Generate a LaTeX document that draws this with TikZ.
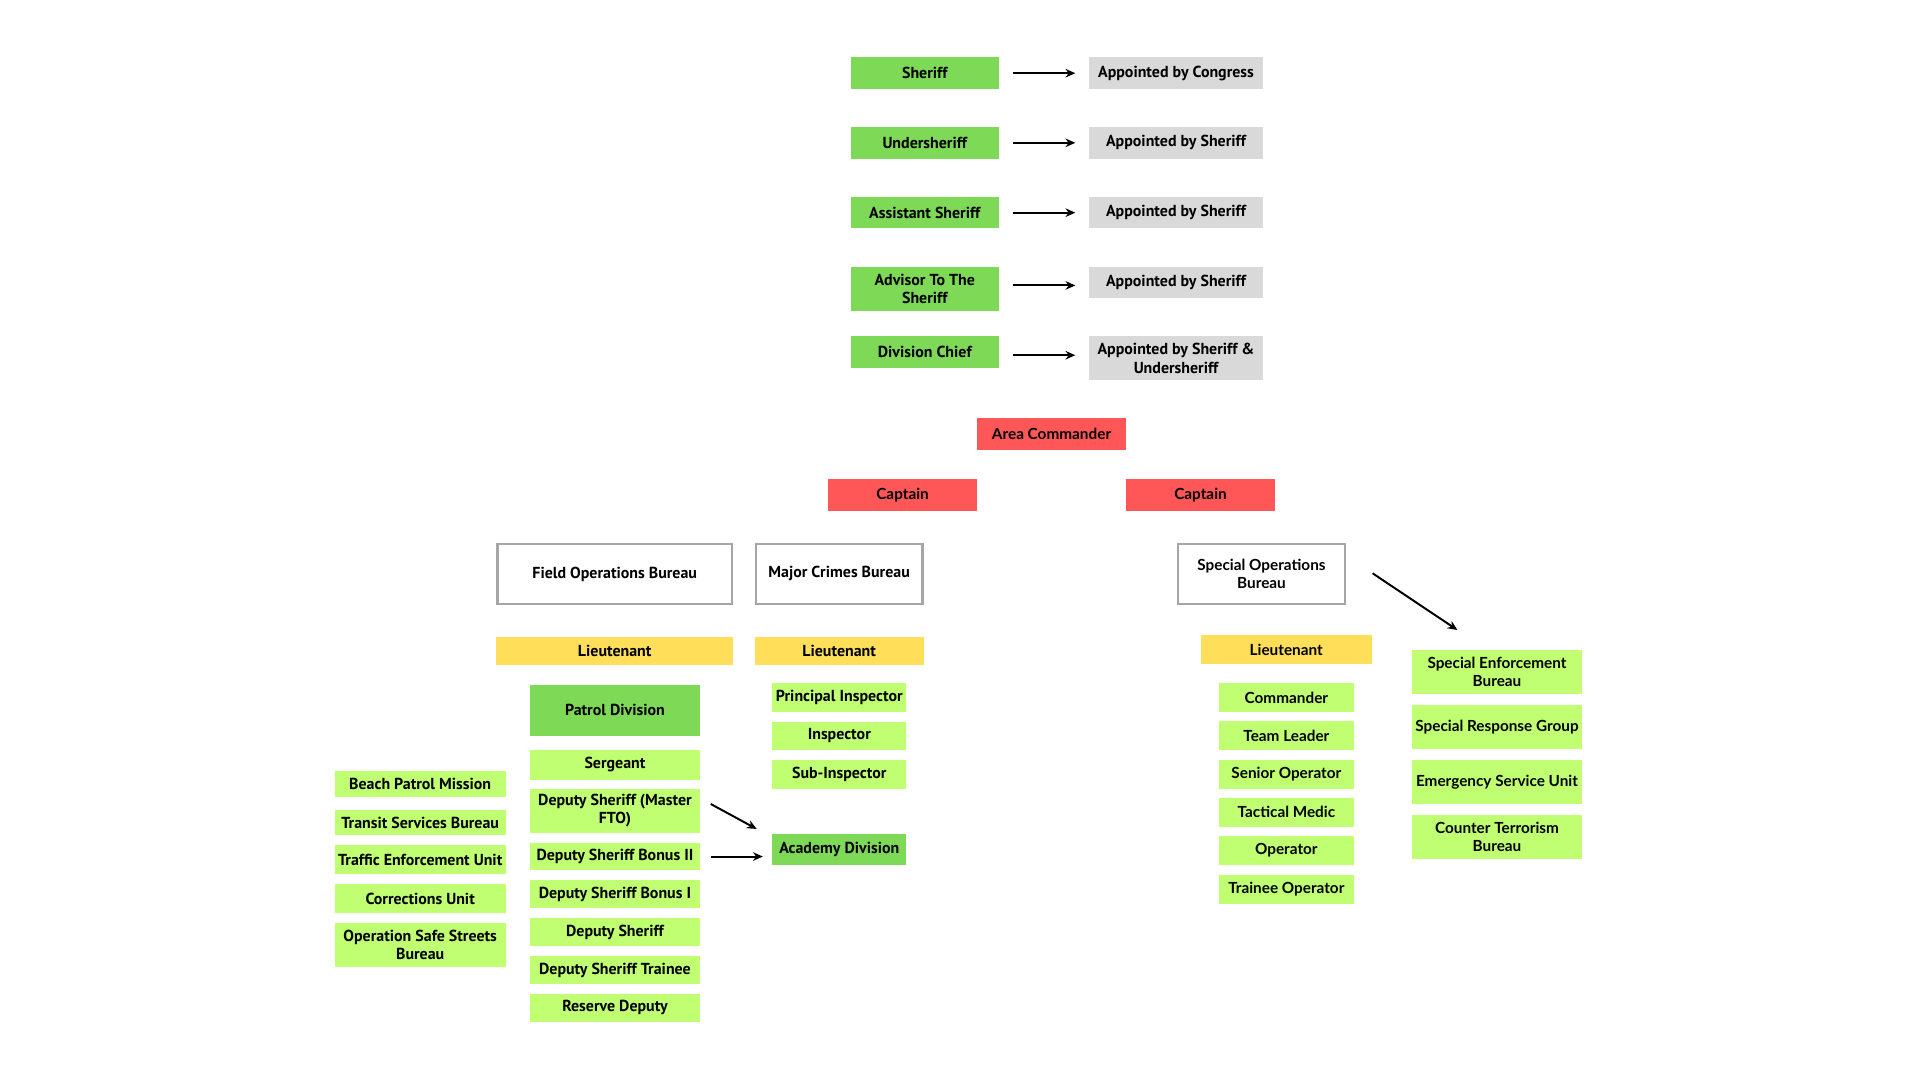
\documentclass[tikz,border=0pt]{standalone}
\usepackage{fontspec}
\setmainfont{PT Sans}
\newfontfamily\widefont{Lato}
\usetikzlibrary{arrows.meta,calc}
\definecolor{dkgreen}{HTML}{7ED957}
\definecolor{ltgreen}{HTML}{C1FF72}
\definecolor{grayb}{HTML}{D9D9D9}
\definecolor{redb}{HTML}{FF5757}
\definecolor{yelb}{HTML}{FFDE59}
\definecolor{bord}{HTML}{A6A6A6}
\begin{document}
\begin{tikzpicture}[x=1pt,y=-1pt,
  bw/.style={minimum width=#1pt},
  bh/.style={minimum height=#1pt},
  nar/.style={rectangle, inner sep=0pt, align=center, font=\bfseries\fontsize{13}{15}\selectfont},
  wide/.style={rectangle, inner sep=0pt, align=center, font=\widefont\bfseries\fontsize{12.5}{14.5}\selectfont},
  boxdg/.style={fill=dkgreen},
  boxlg/.style={fill=ltgreen},
  boxgray/.style={fill=grayb},
  boxred/.style={fill=redb},
  boxyel/.style={fill=yelb},
  boxwhite/.style={draw=bord, line width=2pt, fill=white},
  arr/.style={-{Stealth[length=8pt,width=7pt]}, line width=1.6pt, black}]
\useasboundingbox[fill=white] (0,0) rectangle (1567.35,881.63);

% ---- top ranks
\node[nar,boxdg,bw=121.2,bh=25.9] (sheriff) at (754.9,59.75) {Sheriff};
\node[nar,boxdg,bw=121.2,bh=25.8] (under) at (754.9,116.6) {Undersheriff};
\node[nar,boxdg,bw=121.2,bh=25.6] (asst) at (754.9,173.6) {Assistant Sheriff};
\node[nar,boxdg,bw=121.2,bh=35.9] (advisor) at (754.9,235.65) {Advisor To The\\Sheriff};
\node[nar,boxdg,bw=121.2,bh=25.9] (divchief) at (754.9,287.45) {Division Chief};

\node[nar,boxgray,bw=142,bh=25.9] (g1) at (960,59.75) {Appointed by Congress};
\node[nar,boxgray,bw=142,bh=25.8] (g2) at (960,116.6) {Appointed by Sheriff};
\node[nar,boxgray,bw=142,bh=25.6] (g3) at (960,173.6) {Appointed by Sheriff};
\node[nar,boxgray,bw=142,bh=25.3] (g4) at (960,230.35) {Appointed by Sheriff};
\node[nar,boxgray,bw=142,bh=36] (g5) at (960,292.5) {Appointed by Sheriff \&\\Undersheriff};

\draw[arr,shorten <=11pt,shorten >=11pt] (sheriff.east) -- (g1.west);
\draw[arr,shorten <=11pt,shorten >=11pt] (under.east) -- (g2.west);
\draw[arr,shorten <=11pt,shorten >=11pt] (asst.east) -- (g3.west);
\coordinate (m4) at ($(advisor.east)!.5!(g4.west)$);
\coordinate (m5) at ($(divchief.east)!.5!(g5.west)$);
\draw[arr,shorten <=11pt,shorten >=11pt] (advisor.east |- m4) -- (g4.west |- m4);
\draw[arr,shorten <=11pt,shorten >=11pt] (divchief.east |- m5) -- (g5.west |- m5);

% ---- commanders
\node[wide,boxred,bw=121.6,bh=26.3] (area) at (858.4,354.2) {Area Commander};
\node[wide,boxred,bw=121.6,bh=26] (cap1) at (736.8,404) {Captain};
\node[wide,boxred,bw=122,bh=26] (cap2) at (980,404) {Captain};

% ---- bureaus
\node[nar,boxwhite,bw=191.2,bh=49] (fob) at (501.8,468.5) {Field Operations Bureau};
\node[nar,boxwhite,bw=136,bh=49] (mcb) at (685,468.5) {Major Crimes Bureau};
\node[wide,boxwhite,bw=136.4,bh=49] (sob) at (1029.8,468.5) {Special Operations\\Bureau};

\node[nar,boxyel,bw=193.2,bh=23.3] (lt1) at (501.8,531.35) {Lieutenant};
\node[nar,boxyel,bw=138,bh=23.3] (lt2) at (685,531.35) {Lieutenant};
\node[wide,boxyel,bw=139.3,bh=23.4] (lt3) at (1050,530.3) {Lieutenant};

% ---- patrol column
\node[nar,boxdg,bw=138.7,bh=41.6] (patrol) at (502,579.7) {Patrol Division};
\node[nar,boxlg,bw=138.7,bh=24.5] (sgt) at (502,624.25) {Sergeant};
\node[nar,boxlg,bw=138.7,bh=35.7] (fto) at (502,661.85) {Deputy Sheriff (Master\\FTO)};
\node[nar,boxlg,bw=138.7,bh=22.6] (b2) at (502,699.2) {Deputy Sheriff Bonus II};
\node[nar,boxlg,bw=138.7,bh=22.9] (b1) at (502,730.05) {Deputy Sheriff Bonus I};
\node[nar,boxlg,bw=138.7,bh=22.8] (ds) at (502,761.1) {Deputy Sheriff};
\node[nar,boxlg,bw=138.7,bh=22.9] (trn) at (502,791.85) {Deputy Sheriff Trainee};
\node[nar,boxlg,bw=138.7,bh=22.8] (rsv) at (502,822.6) {Reserve Deputy};

% ---- left column
\node[nar,boxlg,bw=139.3,bh=21.2] (beach) at (343,640.3) {Beach Patrol Mission};
\node[nar,boxlg,bw=139.3,bh=20.4] (transit) at (343,671.7) {Transit Services Bureau};
\node[nar,boxlg,bw=139.3,bh=23.7] (traffic) at (343,701.85) {Traffic Enforcement Unit};
\node[nar,boxlg,bw=139.3,bh=23.1] (corr) at (343,733.45) {Corrections Unit};
\node[nar,boxlg,bw=139.3,bh=35.6] (oss) at (343,771.3) {Operation Safe Streets\\Bureau};

% ---- major crimes column
\node[nar,boxlg,bw=109.3,bh=23.2] (pinsp) at (685.15,569.4) {Principal Inspector};
\node[nar,boxlg,bw=109.3,bh=22.9] (insp) at (685.15,600.55) {Inspector};
\node[nar,boxlg,bw=109.3,bh=23.4] (sinsp) at (685.15,632.1) {Sub-Inspector};
\node[nar,boxdg,bw=109.3,bh=25.1] (acad) at (685.15,693.35) {Academy Division};

\coordinate (a1s) at (580.2,656.3);
\coordinate (a1e) at (617.7,676.7);
\draw[arr] (a1s) -- (a1e);
\draw[arr,shorten <=8.8pt,shorten >=7.6pt] (b2.east) -- (b2.east -| acad.west);

% ---- special operations column
\node[wide,boxlg,bw=110,bh=23.2] (cmdr) at (1050.1,569.4) {Commander};
\node[wide,boxlg,bw=110,bh=23.1] (team) at (1050.1,600.45) {Team Leader};
\node[wide,boxlg,bw=110,bh=23.4] (senior) at (1050.1,632.1) {Senior Operator};
\node[wide,boxlg,bw=110,bh=23.4] (medic) at (1050.1,663.1) {Tactical Medic};
\node[wide,boxlg,bw=110,bh=23.5] (oper) at (1050.1,694.15) {Operator};
\node[wide,boxlg,bw=110,bh=23.4] (trop) at (1050.1,726) {Trainee Operator};

\node[wide,boxlg,bw=139.3,bh=35.9] (seb) at (1222.05,548.55) {Special Enforcement\\Bureau};
\node[wide,boxlg,bw=139.3,bh=35.9] (srg) at (1222.05,593.45) {Special Response Group};
\node[wide,boxlg,bw=139.3,bh=35.7] (esu) at (1222.05,638.25) {Emergency Service Unit};
\node[wide,boxlg,bw=139.3,bh=35.9] (ctb) at (1222.05,683.25) {Counter Terrorism\\Bureau};

\coordinate (a3s) at (1120.5,468);
\coordinate (a3e) at (1189.7,514.3);
\draw[arr] (a3s) -- (a3e);
\end{tikzpicture}
\end{document}
